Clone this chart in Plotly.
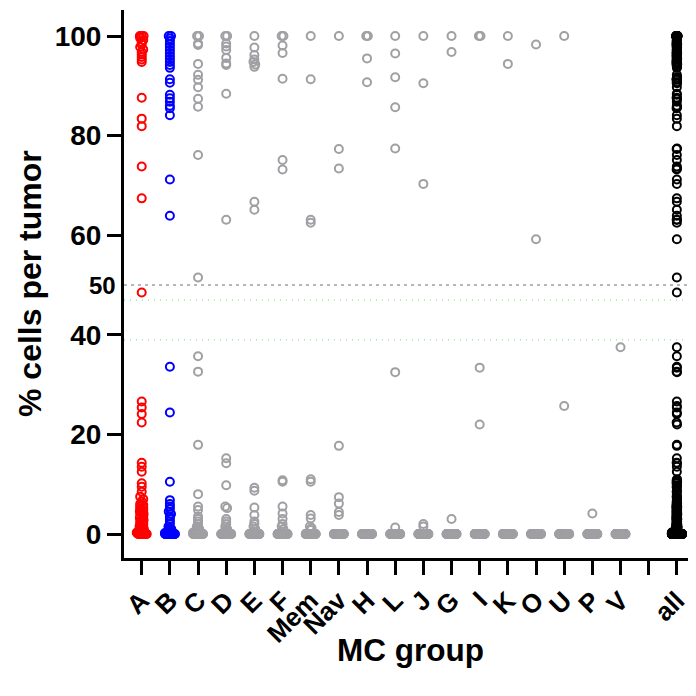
import numpy as np
import plotly.graph_objects as go

# ---------------- data ----------------
categories = ["A", "B", "C", "D", "E", "F", "Mem", "Nav", "H", "L", "J", "G",
              "I", "K", "O", "U", "P", "V"]
n_tumors = 80

vals_A = [100, 100, 100, 99.6, 99.2, 98.8, 98.3, 97.8, 97.3, 96.8, 96.3, 95.8, 95.3, 94.8,
          87.6, 83.4, 81.9, 73.8, 67.4, 48.5, 26.6, 25.4, 24.1, 22.4, 14.3, 13.5, 12.5,
          10.2, 9.5, 8.5, 7.5, 7.0, 6.5, 6.0, 5.8, 5.5, 5.2, 5.0, 4.7, 4.5, 4.2, 4.0, 3.7,
          3.5, 3.2, 3.0, 2.8, 2.5, 2.2, 2.0, 1.8, 1.5, 1.3, 1.2, 1.0, 0.8, 0.6, 0.5, 0.4,
          0.3, 0.2, 0.1]
vals_B = [100, 100, 99.5, 99.0, 98.4, 97.8, 97.2, 96.6, 96.0, 95.4, 94.8, 94.2, 93.6,
          91.3, 90.6, 88.2, 87.5, 86.8, 86.0, 85.5, 84.1, 71.2, 63.9, 33.6, 24.4, 10.5,
          6.8, 6.0, 5.5, 5.0, 4.5, 4.0, 3.5, 3.0, 2.5, 2.0, 1.5, 1.2, 1.0, 0.8, 0.6, 0.4, 0.2]
vals_C = [100, 100, 98.5, 98.2, 94.4, 92.2, 91.2, 89.7, 87.4, 85.8, 76.1, 51.5, 35.7,
          32.6, 17.9, 8.0, 5.5, 4.8, 3.5, 3.0, 2.5, 2.0, 1.5, 1.2, 1.0, 0.8, 0.5, 0.3]
vals_D = [100, 100, 98.5, 97.9, 97.2, 95.6, 94.5, 94.2, 88.4, 63.1, 15.2, 14.2, 9.8,
          5.5, 5.2, 3.0, 2.5, 2.0, 1.5, 1.0, 0.7, 0.4]
vals_E = [100, 97.7, 96.2, 95.3, 94.8, 94.3, 93.8, 66.7, 65.1, 9.3, 8.7, 5.3, 3.8, 2.5,
          2.0, 1.5, 1.0, 0.5]
vals_F = [100, 100, 98.1, 96.6, 91.4, 75.1, 73.2, 10.8, 10.5, 5.5, 4.1, 3.0, 2.0, 1.5,
          1.0, 0.5]
vals_Mem = [100, 91.3, 63.1, 62.5, 11.0, 10.5, 3.8, 3.1, 1.5, 1.2, 0.8]
vals_Nav = [100, 77.3, 73.4, 17.7, 7.4, 6.1, 4.4, 3.8]
vals_H = [100, 100, 95.5, 90.7]
vals_L = [100, 96.5, 91.7, 85.7, 77.4, 32.5, 1.3]
vals_J = [100, 90.5, 70.3, 2.0, 1.5]
vals_G = [100, 96.8, 3.0]
vals_I = [100, 100, 33.4, 22.0]
vals_K = [100, 94.4]
vals_O = [98.3, 59.2]
vals_U = [100, 25.7]
vals_P = [4.1]
vals_V = [37.5]

nonzero_values = [vals_A, vals_B, vals_C, vals_D, vals_E, vals_F, vals_Mem, vals_Nav,
                  vals_H, vals_L, vals_J, vals_G, vals_I, vals_K, vals_O, vals_U,
                  vals_P, vals_V]
y_ticks = [0, 20, 40, 60, 80, 100]
threshold_line = 50
dotted_lines = [47.0, 39.0]

# ---------------- styling ----------------
colors = ["#FF0000", "#0000FF"] + ["#A0A0A4"] * 16
all_color = "#000000"
FONT = "Liberation Sans, Arial, sans-serif"

# layout geometry (pixels); page body has an 8px margin
W, H = 688, 688
L_M, R_M, T_M, B_M = 116, 0, 2, 138
plot_w = W - L_M - R_M
plot_h = H - T_M - B_M
x_range = [-0.629, 19.68]
y_range = [-4.82, 105.22]
px_per_x = plot_w / (x_range[1] - x_range[0])
px_per_y = plot_h / (y_range[1] - y_range[0])


def swarm_offsets(vals, bin_px=3.0, max_half_px=5.0):
    vals = np.asarray(vals, dtype=float)
    bins = np.round(vals * px_per_y / bin_px).astype(int)
    uniq, counts = np.unique(bins, return_counts=True)
    M = counts.max()
    offs = np.zeros(len(vals))
    for b, c in zip(uniq, counts):
        if c < 2:
            continue
        idx = np.where(bins == b)[0]
        half = max_half_px * np.sqrt(c / M)
        offs[idx] = np.linspace(-half, half, c)
    return offs / px_per_x


fig = go.Figure()
all_vals = []
for i, (cat, nz) in enumerate(zip(categories, nonzero_values)):
    v = list(nz) + [0.0] * (n_tumors - len(nz))
    all_vals += v
    xo = i + swarm_offsets(v)
    fig.add_trace(go.Scatter(
        x=xo, y=v, mode="markers", name=cat, showlegend=False,
        marker=dict(symbol="circle-open", size=8, color=colors[i],
                    line=dict(width=2, color=colors[i])),
        cliponaxis=False))

all_idx = len(categories) + 1
fig.add_trace(go.Scatter(
    x=all_idx + swarm_offsets(all_vals), y=all_vals, mode="markers", name="all",
    showlegend=False,
    marker=dict(symbol="circle-open", size=8, color=all_color,
                line=dict(width=2, color=all_color)),
    cliponaxis=False))

# reference lines
fig.add_shape(type="line", xref="paper", yref="y", x0=0, x1=1,
              y0=threshold_line, y1=threshold_line, layer="below",
              line=dict(color="#A0A0A0", width=1.5, dash="3px,4px"))
for yv in dotted_lines:
    fig.add_shape(type="line", xref="paper", yref="y", x0=0, x1=1,
                  y0=yv, y1=yv, layer="below",
                  line=dict(color="#A8E4A8", width=1.5, dash="1px,5px"))

ticktext = categories + ["", "all"]
fig.update_xaxes(
    range=x_range, tickmode="array", tickvals=list(range(len(ticktext))),
    ticktext=ticktext, tickangle=-45, ticks="outside", ticklen=14, tickwidth=2.5,
    tickcolor="black", showline=True, linewidth=3, linecolor="black",
    showgrid=False, zeroline=False,
    tickfont=dict(family=FONT, size=26, color="black", weight="bold"))
fig.update_yaxes(
    range=y_range, tickmode="array", tickvals=y_ticks, ticks="outside", ticklen=14,
    tickwidth=3, tickcolor="black", showline=True, linewidth=3, linecolor="black",
    showgrid=False, zeroline=False,
    tickfont=dict(family=FONT, size=28, color="black", weight="bold"))

fig.add_annotation(text="50", xref="paper", yref="y", x=0, y=threshold_line,
                   xanchor="right", yanchor="middle", xshift=-6, showarrow=False,
                   font=dict(family=FONT, size=24, color="black", weight="bold"))
fig.add_annotation(text="MC group", xref="paper", yref="paper", x=0.5,
                   y=(T_M + plot_h - (650 - 8)) / plot_h, xanchor="center",
                   yanchor="middle", showarrow=False,
                   font=dict(family=FONT, size=31.5, color="black", weight="bold"))
fig.add_annotation(text="% cells per tumor", xref="paper", yref="paper",
                   x=(30 - 8 - L_M) / plot_w, y=0.5, textangle=-90, xanchor="center",
                   yanchor="middle", showarrow=False,
                   font=dict(family=FONT, size=32, color="black", weight="bold"))

fig.update_layout(
    width=W, height=H, margin=dict(l=L_M, r=R_M, t=T_M, b=B_M, autoexpand=False),
    paper_bgcolor="white", plot_bgcolor="white", showlegend=False)

fig.write_html("out.html")
